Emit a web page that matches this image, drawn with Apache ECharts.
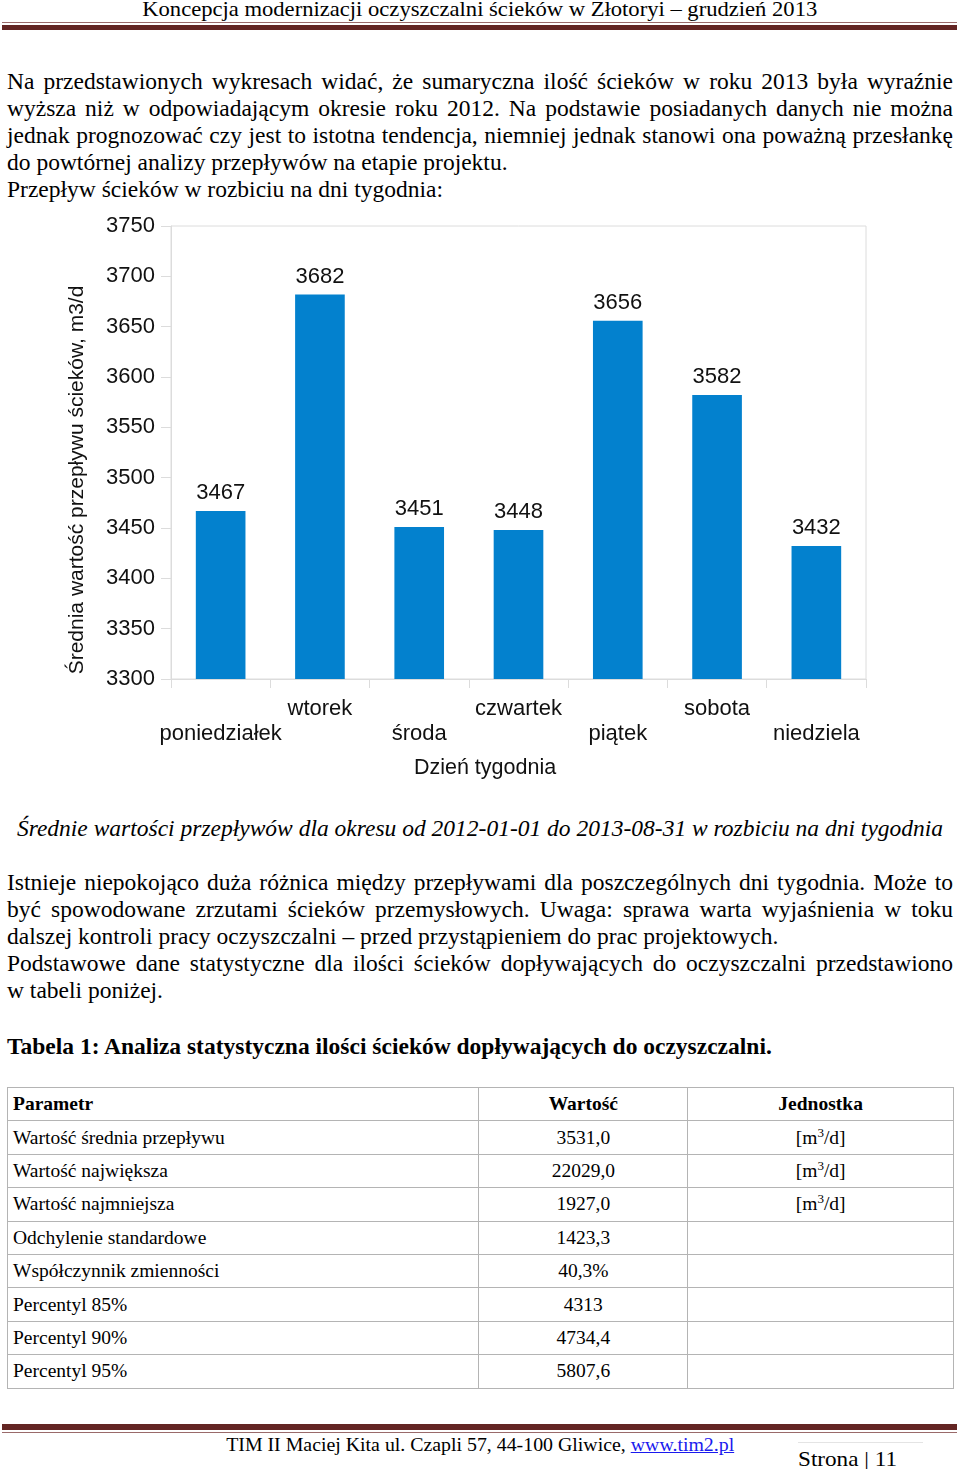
<!DOCTYPE html>
<html>
<head>
<meta charset="utf-8">
<script src="https://cdn.jsdelivr.net/npm/echarts@6/dist/echarts.min.js"></script>
<style>
  html, body { margin: 0; padding: 0; background: #fff; }
  body { width: 960px; height: 1469px; position: relative; overflow: hidden; font-family: "Liberation Serif", "DejaVu Serif", serif; color: #000; }
  .ln { position: absolute; left: 7px; width: 946px; height: 27px; line-height: 27px; font-size: 23.5px; white-space: nowrap; }
  .j { text-align: justify; text-align-last: justify; }
  .l { text-align: left; }
  #hdr { position: absolute; left: 0; top: -3px; width: 960px; text-align: center; font-size: 21px; white-space: nowrap; }
  #hdr span { display: inline-block; transform-origin: center; }
  .bar1 { position: absolute; left: 2px; width: 955px; }
  #chart { position: absolute; left: 0; top: 205px; width: 960px; height: 580px; }
  table { position: absolute; left: 7px; top: 1087px; width: 947px; border-collapse: collapse; font-size: 19.5px; }
  td { border: 1px solid #b4b4b4; height: 32.4px; padding: 0 5px; line-height: 20px; }
  td.c { text-align: center; }
  sup { font-size: 13px; line-height: 0; vertical-align: 7px; }
  #foot { position: absolute; left: 0; width: 960px; top: 1434px; text-align: center; white-space: nowrap; font-size: 19px; }
  #foot span { display: inline-block; }
  a { color: #1a1aee; }
</style>
</head>
<body>
<script>
// ---- chart data ----
const days = ['poniedziałek', 'wtorek', 'środa', 'czwartek', 'piątek', 'sobota', 'niedziela'];
const flows = [3467, 3682, 3451, 3448, 3656, 3582, 3432];
const yMin = 3300, yMax = 3750, yStep = 50;
const yTitle = 'Średnia wartość przepływu ścieków, m3/d';
const xTitle = 'Dzień tygodnia';
// ---- table data ----
const tblHead = ['Parametr', 'Wartość', 'Jednostka'];
const tblParams = ['Wartość średnia przepływu', 'Wartość największa', 'Wartość najmniejsza', 'Odchylenie standardowe', 'Współczynnik zmienności', 'Percentyl 85%', 'Percentyl 90%', 'Percentyl 95%'];
const tblValues = ['3531,0', '22029,0', '1927,0', '1423,3', '40,3%', '4313', '4734,4', '5807,6'];
const tblUnits = ['[m<sup>3</sup>/d]', '[m<sup>3</sup>/d]', '[m<sup>3</sup>/d]', '', '', '', '', ''];
</script>

<div id="hdr"><span id="hdrt">Koncepcja modernizacji oczyszczalni ścieków w Złotoryi – grudzień 2013</span></div>
<div class="bar1" style="top:22px;height:1px;background:#9a6a6a;"></div>
<div class="bar1" style="top:25px;height:5px;background:#632523;"></div>

<div class="ln j" style="top:68px">Na przedstawionych wykresach widać, że sumaryczna ilość ścieków w roku 2013 była wyraźnie</div>
<div class="ln j" style="top:95px">wyższa niż w odpowiadającym okresie roku 2012. Na podstawie posiadanych danych nie można</div>
<div class="ln j" style="top:122px">jednak prognozować czy jest to istotna tendencja, niemniej jednak stanowi ona poważną przesłankę</div>
<div class="ln l" style="top:149px">do powtórnej analizy przepływów na etapie projektu.</div>
<div class="ln l" style="top:176px">Przepływ ścieków w rozbiciu na dni tygodnia:</div>

<div id="chart"></div>

<div class="ln" style="top:815px;text-align:center;font-style:italic;">Średnie wartości przepływów dla okresu od 2012-01-01 do 2013-08-31 w rozbiciu na dni tygodnia</div>

<div class="ln j" style="top:869px">Istnieje niepokojąco duża różnica między przepływami dla poszczególnych dni tygodnia. Może to</div>
<div class="ln j" style="top:896px">być spowodowane zrzutami ścieków przemysłowych. Uwaga: sprawa warta wyjaśnienia w toku</div>
<div class="ln l" style="top:923px">dalszej kontroli pracy oczyszczalni – przed przystąpieniem do prac projektowych.</div>
<div class="ln j" style="top:950px">Podstawowe dane statystyczne dla ilości ścieków dopływających do oczyszczalni przedstawiono</div>
<div class="ln l" style="top:977px">w tabeli poniżej.</div>

<div class="ln l" style="top:1033px;font-weight:bold;">Tabela 1: Analiza statystyczna ilości ścieków dopływających do oczyszczalni.</div>

<table id="tbl"></table>

<div class="bar1" style="top:1424px;height:6px;background:#632523;"></div>
<div class="bar1" style="top:1432px;height:1px;background:#9a6a6a;"></div>
<div id="foot"><span id="foott">TIM II Maciej Kita ul. Czapli 57, 44-100 Gliwice, <a href="#">www.tim2.pl</a></span></div>
<div style="position:absolute;left:798px;top:1442px;width:125px;height:1px;background:#e4e4e4;"></div>
<div style="position:absolute;left:798px;top:1446px;font-size:21px;line-height:26px;white-space:nowrap;"><span id="str" style="display:inline-block;transform-origin:left center;">Strona | 11</span></div>

<script>
// fit header / footer widths (condensed look)
function fitW(id, w) {
  const el = document.getElementById(id);
  const cw = el.getBoundingClientRect().width;
  el.style.transform = 'scaleX(' + (w / cw) + ')';
}
fitW('hdrt', 675);
fitW('foott', 508);
fitW('str', 99);

// table
const tbl = document.getElementById('tbl');
let html = '<colgroup><col style="width:472px"><col style="width:209px"><col style="width:266px"></colgroup>';
html += '<tr><td style="font-weight:bold">' + tblHead[0] + '</td><td class="c" style="font-weight:bold">' + tblHead[1] + '</td><td class="c" style="font-weight:bold">' + tblHead[2] + '</td></tr>';
for (let i = 0; i < tblParams.length; i++) {
  html += '<tr><td>' + tblParams[i] + '</td><td class="c">' + tblValues[i] + '</td><td class="c">' + tblUnits[i] + '</td></tr>';
}
tbl.innerHTML = html;

// chart
const chart = echarts.init(document.getElementById('chart'), null, { renderer: 'canvas' });
const FONT = '"Liberation Sans", Arial, sans-serif';
const gridColor = '#dcdcdc';
chart.setOption({
  animation: false,
  grid: { left: 171, right: 94, top: 21, bottom: 106, show: true, borderColor: gridColor, borderWidth: 1, backgroundColor: 'transparent' },
  xAxis: {
    type: 'category',
    data: days,
    name: xTitle,
    nameLocation: 'middle',
    nameGap: 78,
    nameTextStyle: { fontFamily: FONT, fontSize: 21.5, color: '#111', padding: [0, 67, 0, 0] },
    axisLine: { show: true, lineStyle: { color: gridColor } },
    axisTick: { show: true, length: 9, lineStyle: { color: gridColor }, alignWithLabel: false },
    axisLabel: {
      interval: 0,
      margin: 17,
      fontFamily: FONT, fontSize: 22, color: '#111', lineHeight: 25,
      formatter: function (v, i) { return i % 2 === 0 ? '\n' + v : v; }
    },
    splitLine: { show: false }
  },
  yAxis: {
    type: 'value',
    min: yMin, max: yMax, interval: yStep,
    name: yTitle,
    nameLocation: 'middle',
    nameGap: 83,
    nameRotate: 90,
    nameTextStyle: { fontFamily: FONT, fontSize: 21, color: '#111', padding: [0, 55, 0, 0] },
    axisLine: { show: true, lineStyle: { color: gridColor } },
    axisTick: { show: true, length: 10, lineStyle: { color: gridColor } },
    axisLabel: { margin: 16, fontFamily: FONT, fontSize: 22, color: '#111', formatter: function (v) { return String(v); } },
    splitLine: { show: false }
  },
  series: [{
    type: 'bar',
    data: flows,
    barWidth: '50%',
    itemStyle: { color: '#0381ce' },
    label: { show: true, position: 'top', distance: 7, fontFamily: FONT, fontSize: 22, color: '#111' }
  }]
});
</script>
</body>
</html>
